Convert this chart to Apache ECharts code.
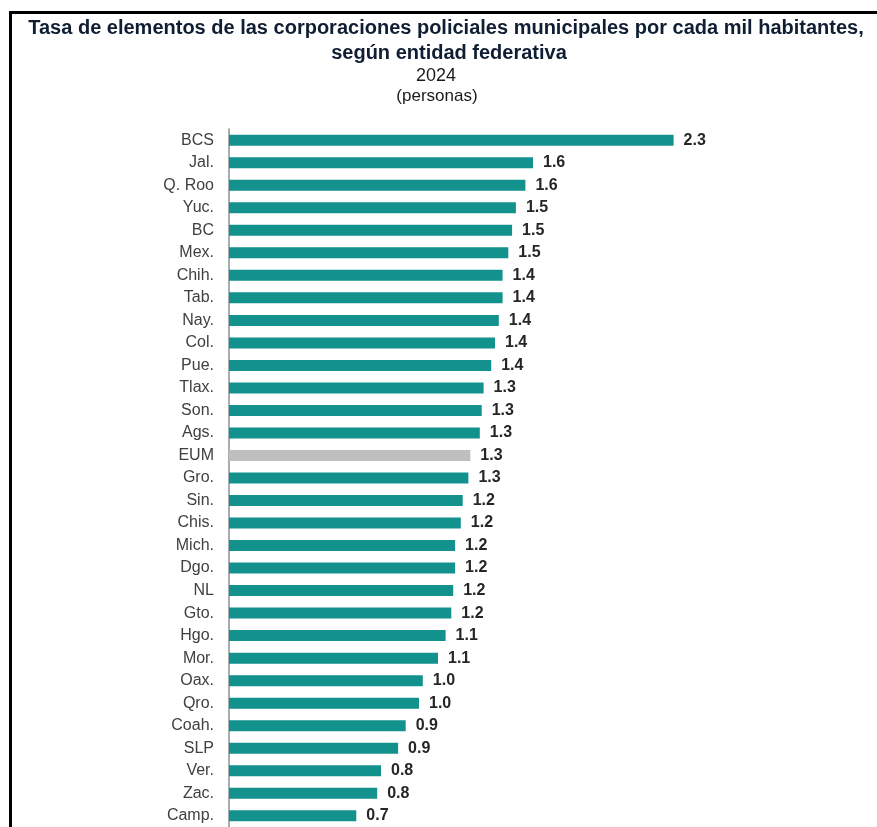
<!DOCTYPE html>
<html>
<head>
<meta charset="utf-8">
<script src="https://cdn.jsdelivr.net/npm/echarts@6/dist/echarts.min.js"></script>
<style>
html,body{margin:0;padding:0;background:#fff;}
#chart{width:877px;height:827px;}
</style>
</head>
<body>
<div id="chart"></div>
<script>
// Data (bar lengths estimated, labels rounded to 1 decimal)
const categories = ["BCS","Jal.","Q. Roo","Yuc.","BC","Mex.","Chih.","Tab.","Nay.","Col.","Pue.","Tlax.","Son.","Ags.","EUM","Gro.","Sin.","Chis.","Mich.","Dgo.","NL","Gto.","Hgo.","Mor.","Oax.","Qro.","Coah.","SLP","Ver.","Zac.","Camp."];
const values = [2.34,1.60,1.56,1.51,1.49,1.47,1.44,1.44,1.42,1.40,1.38,1.34,1.33,1.32,1.27,1.26,1.23,1.22,1.19,1.19,1.18,1.17,1.14,1.10,1.02,1.00,0.93,0.89,0.80,0.78,0.67];
const highlight = "EUM";
const titleLines = ["Tasa de elementos de las corporaciones policiales municipales por cada mil habitantes,","según entidad federativa"];
const subtitleLines = ["2024","(personas)"];

const TEAL = '#13928d';
const GREY = '#bfbfbf';
const FONT = "'Liberation Sans', Arial, sans-serif";

const chart = echarts.init(document.getElementById('chart'), null, {renderer:'canvas'});
chart.setOption({
  animation:false,
  backgroundColor:'#ffffff',
  graphic:[
    {type:'line', shape:{x1:10.5,y1:11,x2:10.5,y2:827}, style:{stroke:'#000',lineWidth:3}},
    {type:'line', shape:{x1:9,y1:12.5,x2:877,y2:12.5}, style:{stroke:'#000',lineWidth:3}},
    {type:'text', x:446, y:28, style:{text:titleLines[0], fill:'#0f1e33', font:"bold 20px "+FONT, textAlign:'center', textVerticalAlign:'middle'}},
    {type:'text', x:449, y:53, style:{text:titleLines[1], fill:'#0f1e33', font:"bold 20px "+FONT, textAlign:'center', textVerticalAlign:'middle'}},
    {type:'text', x:436, y:76, style:{text:subtitleLines[0], fill:'#1a1a1a', font:"18px "+FONT, textAlign:'center', textVerticalAlign:'middle'}},
    {type:'text', x:437, y:96, style:{text:subtitleLines[1], fill:'#1a1a1a', font:"17px "+FONT, textAlign:'center', textVerticalAlign:'middle'}}
  ],
  grid:{left:229, right:78, top:129, bottom:0, containLabel:false},
  xAxis:{type:'value', min:0, max:3, show:false},
  yAxis:{
    type:'category', data:categories, inverse:true,
    axisLine:{show:true, lineStyle:{color:'#8a9096', width:1.5}},
    axisTick:{show:false},
    axisLabel:{color:'#404040', fontSize:16, fontFamily:FONT, margin:15}
  },
  series:[{
    type:'bar',
    data: values.map((v,i)=>({value:v, itemStyle:{color: categories[i]===highlight ? GREY : TEAL}})),
    barWidth:11,
    label:{show:true, position:'right', distance:10, color:'#262626', fontWeight:'bold', fontSize:16, fontFamily:FONT,
      formatter: p => (Math.round(p.value*10)/10).toFixed(1)}
  }]
});
</script>
</body>
</html>
